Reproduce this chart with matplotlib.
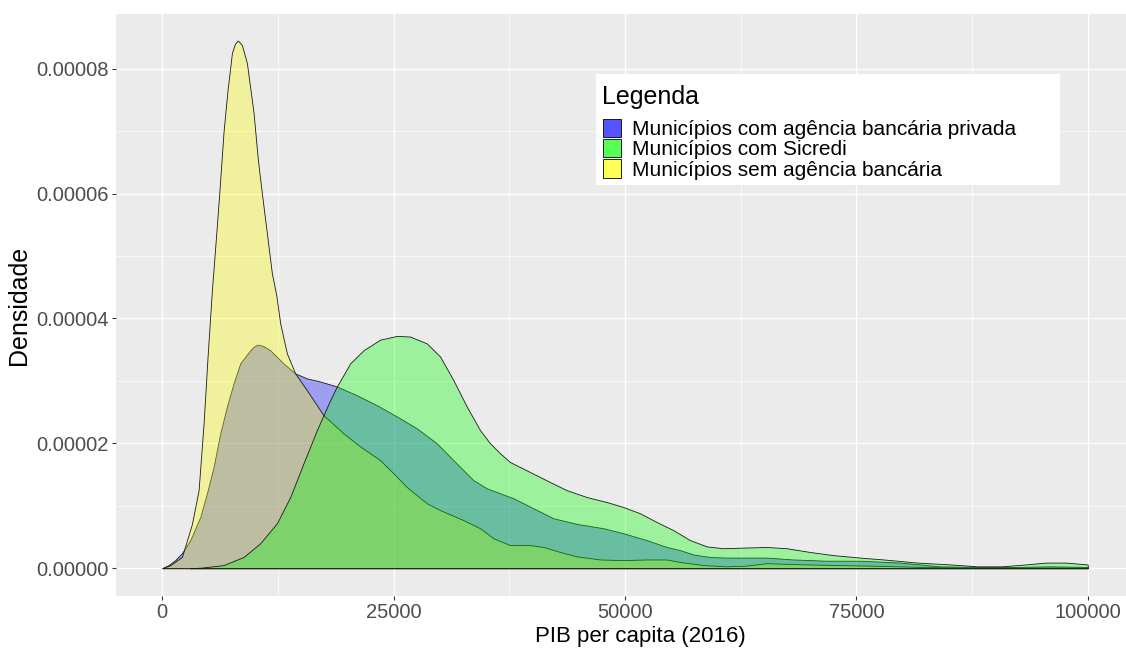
import matplotlib
matplotlib.use("Agg")
import matplotlib.pyplot as plt
from matplotlib.patches import Patch, Rectangle

# densidades (unidade: 1e-5)
x_privada = [0, 685, 1405, 2125, 3025, 4105, 4825, 5540, 6265, 6985, 7700, 8425,
             9500, 9900, 10295, 10900, 11660, 13100, 14360, 15625, 17060, 18865, 21020, 23185,
             25345, 27505, 29665, 31460, 33620, 35060, 36140, 37940, 40100, 42260,
             44780, 47660, 49820, 52340, 54500, 55940, 57380, 59180, 60980, 63140,
             65300, 68180, 71780, 75400, 79770, 84000, 88000, 92000, 96000, 100000]
y_privada = [0.0, 0.05, 0.13, 0.24, 0.45, 0.82, 1.20, 1.62, 2.16, 2.59, 2.96, 3.28,
             3.49, 3.55, 3.58, 3.56, 3.49, 3.28, 3.12, 3.04, 2.99, 2.91, 2.77, 2.61,
             2.43, 2.24, 2.00, 1.73, 1.41, 1.28, 1.22, 1.12, 0.96, 0.80,
             0.71, 0.64, 0.56, 0.45, 0.34, 0.29, 0.22, 0.18, 0.17, 0.17,
             0.17, 0.14, 0.12, 0.12, 0.09, 0.03, 0.02, 0.02, 0.03, 0.02]

x_sicredi = [3000, 4285, 6625, 8780, 10580, 12385, 13825, 15260, 16700, 17420, 18140,
             18865, 20300, 21740, 23540, 25345, 26780, 28585, 30020, 31460, 32900,
             34340, 35420, 36500, 37580, 39740, 41900, 43700, 45860, 48020, 49820,
             51620, 53420, 55220, 57020, 58820, 60620, 62780, 65300, 67460, 69980,
             72500, 75400, 77950, 81600, 85200, 88100, 90700, 93270, 95460, 97650, 100000]
y_sicredi = [0.0, 0.01, 0.05, 0.18, 0.40, 0.72, 1.14, 1.68, 2.21, 2.45, 2.69,
             2.91, 3.28, 3.49, 3.66, 3.72, 3.71, 3.60, 3.39, 3.01, 2.59,
             2.21, 2.00, 1.84, 1.70, 1.54, 1.38, 1.25, 1.14, 1.06, 0.98,
             0.88, 0.74, 0.61, 0.45, 0.35, 0.32, 0.33, 0.34, 0.32, 0.26,
             0.21, 0.17, 0.14, 0.09, 0.06, 0.03, 0.03, 0.06, 0.09, 0.09, 0.06]

x_sem = [0, 865, 2125, 3205, 3925, 4465, 4895, 5365, 5650, 6155, 6625, 7055, 7525,
         7850, 8175, 8600, 9145, 9865, 10330, 10765, 11300, 11845, 12310, 12745, 13465, 14360,
         15625, 17420, 19580, 21380, 23540, 24980, 26420, 28585, 30020, 32540,
         34340, 35780, 37580, 39740, 41180, 42980, 44780, 47300, 49820, 52340,
         54500, 55940, 58460, 60980, 63000, 65300, 67460, 69980, 73000, 77000,
         82000, 88000, 94000, 100000]
y_sem = [0.0, 0.05, 0.18, 0.71, 1.25, 2.32, 3.39, 4.46, 5.00, 6.00, 7.00, 7.66, 8.25,
         8.40, 8.45, 8.38, 8.09, 7.29, 6.54, 6.00, 5.37, 4.72, 4.38, 3.92, 3.44, 3.12,
         2.85, 2.45, 2.16, 1.95, 1.73, 1.52, 1.30, 1.04, 0.93, 0.77,
         0.64, 0.48, 0.37, 0.37, 0.34, 0.26, 0.19, 0.14, 0.13, 0.14,
         0.14, 0.10, 0.05, 0.03, 0.04, 0.08, 0.07, 0.06, 0.05, 0.04,
         0.02, 0.01, 0.01, 0.01]

escala = 1e-5
nomes = ["Municípios com agência bancária privada",
         "Municípios com Sicredi",
         "Municípios sem agência bancária"]
cores = ["#0000FF", "#00FF00", "#FFFF00"]
cores_leg = ["#5555FF", "#55FF55", "#FFFF55"]
camadas = [3, 5, 4]   # verde desenhado por cima do amarelo

x_ticks = [0, 25000, 50000, 75000, 100000]
y_ticks = [0, 2e-5, 4e-5, 6e-5, 8e-5]

plt.rcParams['font.family'] = ['Liberation Sans', 'DejaVu Sans']

W, H = 1126, 648
fig = plt.figure(figsize=(W / 100, H / 100), dpi=100)
ax = fig.add_axes([116 / W, 1 - 596 / H, (1134 - 116) / W, (596 - 14) / H])
ax.set_facecolor("#EBEBEB")

series = [(x_privada, y_privada), (x_sicredi, y_sicredi), (x_sem, y_sem)]
for (xs, ys), cor, z in zip(series, cores, camadas):
    ax.fill_between(xs, [v * escala for v in ys], 0,
                    facecolor=matplotlib.colors.to_rgba(cor, 0.33),
                    edgecolor="#1a1a1a", linewidth=0.6, zorder=z)

ax.set_xlim(-5000, 105000)
ax.set_ylim(-0.445e-5, 8.875e-5)
ax.set_xticks(x_ticks)
ax.set_xticklabels([str(t) for t in x_ticks])
ax.set_yticks(y_ticks)
ax.set_yticklabels(["%.5f" % t for t in y_ticks])
ax.set_xticks([12500, 37500, 62500, 87500], minor=True)
ax.set_yticks([1e-5, 3e-5, 5e-5, 7e-5], minor=True)
ax.grid(which="major", color="white", linewidth=1.0, zorder=0)
ax.grid(which="minor", color="white", linewidth=0.5, zorder=0)
ax.set_axisbelow(True)
for s in ax.spines.values():
    s.set_visible(False)
ax.tick_params(which="major", length=3, width=0.8, color="#333333",
               labelcolor="#4D4D4D", labelsize=14.5, pad=2)
ax.tick_params(which="minor", length=0)

ax.set_xlabel("PIB per capita (2016)", fontsize=16, labelpad=3)
ax.xaxis.label.set_x((640 - 116) / (1134 - 116))
ax.set_ylabel("Densidade", fontsize=18, labelpad=4)

# caixa da legenda
fig.patches.append(Rectangle((596 / W, 1 - 185 / H), (1060 - 596) / W, (185 - 74) / H,
                             transform=fig.transFigure, facecolor="white",
                             edgecolor="none", zorder=5))
fig.text(602 / W, 1 - 104 / H, "Legenda", fontsize=18, va="baseline", zorder=6)
handles = [Patch(facecolor=c, edgecolor="black", linewidth=0.6) for c in cores_leg]
fs = 15
fs_px = fs * 100 / 72
leg = fig.legend(handles, nomes, loc="upper left",
                 bbox_to_anchor=(602.5 / W, 1 - 119 / H), bbox_transform=fig.transFigure,
                 frameon=False, fontsize=fs, borderpad=0, borderaxespad=0,
                 handlelength=18 / fs_px, handleheight=20 / fs_px,
                 labelspacing=0, handletextpad=12 / fs_px)
leg.set_zorder(7)

fig.savefig("out.png", dpi=100)
